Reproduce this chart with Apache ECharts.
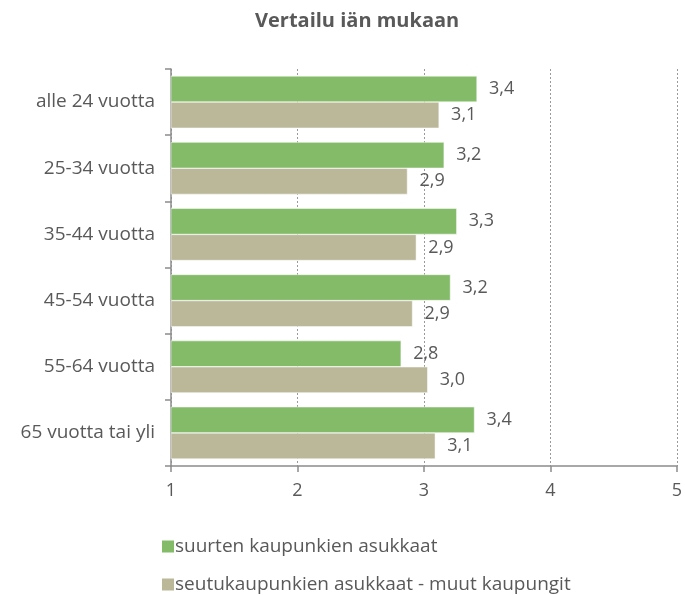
<!DOCTYPE html>
<html>
<head>
<meta charset="utf-8">
<script src="https://cdn.jsdelivr.net/npm/echarts@6/dist/echarts.min.js"></script>
<style>
  html, body { margin: 0; padding: 0; background: #fff; }
  #chart { width: 685px; height: 595px; }
</style>
</head>
<body>
<div id="chart"></div>
<script>
// ikäryhmät ylhäältä alas
var categories = ['alle 24 vuotta', '25-34 vuotta', '35-44 vuotta', '45-54 vuotta', '55-64 vuotta', '65 vuotta tai yli']
var seriesNames = ['suurten kaupunkien asukkaat', 'seutukaupunkien asukkaat - muut kaupungit']
var suuret = [3.42, 3.16, 3.26, 3.21, 2.82, 3.40]
var seutu = [3.12, 2.87, 2.94, 2.91, 3.03, 3.09]
var xTicks = [1, 2, 3, 4, 5]

var textColor = '#595959'
var font = 'Open Sans'

var chart = echarts.init(document.getElementById('chart'))

function valueLabel(p) {
  return p.value.toFixed(1).replace('.', ',')
}

function legendItem(name, top) {
  return {
    orient: 'vertical',
    left: 155,
    top: top,
    itemWidth: 14,
    itemHeight: 14,
    icon: 'rect',
    data: [name],
    textStyle: {
      fontFamily: font,
      fontSize: 19,
      color: textColor,
      padding: [0, 0, 0, -5]
    }
  }
}

chart.setOption({
  backgroundColor: '#fff',
  animation: false,
  title: {
    text: 'Vertailu iän mukaan',
    left: 250,
    top: 6,
    textStyle: {
      fontFamily: font,
      fontSize: 20,
      fontWeight: 'bold',
      color: textColor
    }
  },
  legend: [
    legendItem(seriesNames[0], 532),
    legendItem(seriesNames[1], 570)
  ],
  grid: {
    left: 171,
    right: 6,
    top: 69,
    bottom: 129,
    containLabel: false
  },
  xAxis: {
    type: 'value',
    min: xTicks[0],
    max: xTicks[xTicks.length - 1],
    interval: 1,
    axisLine: {
      show: true,
      lineStyle: { color: '#8c8c8c', width: 1.5 }
    },
    axisTick: {
      show: true,
      length: 6,
      lineStyle: { color: '#8c8c8c', width: 1.5 }
    },
    axisLabel: {
      margin: 16,
      fontFamily: font,
      fontSize: 18,
      color: textColor
    },
    splitLine: {
      show: true,
      lineStyle: { color: '#9a9a9a', type: [2, 2], width: 1 }
    }
  },
  yAxis: {
    type: 'category',
    inverse: true,
    data: categories,
    axisLine: {
      show: true,
      lineStyle: { color: '#8c8c8c', width: 1.5 }
    },
    axisTick: {
      show: true,
      length: 6,
      lineStyle: { color: '#8c8c8c', width: 1.5 }
    },
    axisLabel: {
      margin: 16,
      fontFamily: font,
      fontSize: 19,
      color: textColor
    }
  },
  series: [{
    name: seriesNames[0],
    type: 'bar',
    barGap: '0%',
    barCategoryGap: '21%',
    itemStyle: { color: '#83bb69', borderColor: '#ffffff', borderWidth: 0.5 },
    label: {
      show: true,
      position: 'right',
      distance: 12,
      fontFamily: font,
      fontSize: 18,
      color: textColor,
      formatter: valueLabel
    },
    data: suuret
  }, {
    name: seriesNames[1],
    type: 'bar',
    itemStyle: { color: '#bab899', borderColor: '#ffffff', borderWidth: 0.5 },
    label: {
      show: true,
      position: 'right',
      distance: 12,
      fontFamily: font,
      fontSize: 18,
      color: textColor,
      formatter: valueLabel
    },
    data: seutu
  }]
})
</script>
</body>
</html>
